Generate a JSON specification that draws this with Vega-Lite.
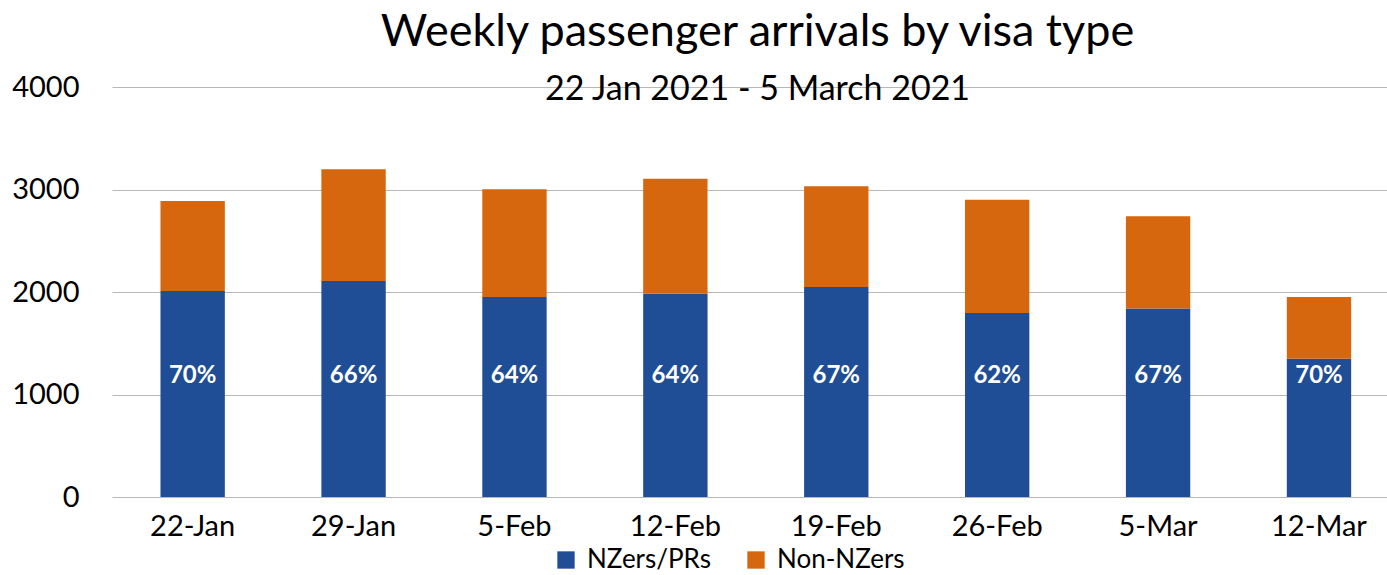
{
  "$schema": "https://vega.github.io/schema/vega-lite/v6.json",
  "width": 1275,
  "height": 410,
  "autosize": {"type": "none"},
  "padding": {"left": 112, "top": 87, "right": 0, "bottom": 78},
  "background": "white",
  "config": {"font": "Lato", "view": {"stroke": null}},
  "title": {
    "text": "Weekly passenger arrivals by visa type",
    "subtitle": "22 Jan 2021 - 5 March 2021",
    "anchor": "middle",
    "frame": "group",
    "fontSize": 45,
    "fontWeight": "normal",
    "subtitleFontSize": 34,
    "color": "#000000",
    "subtitleColor": "#000000",
    "offset": -34,
    "subtitlePadding": 18,
    "dx": 8
  },
  "data": {
    "values": [
      {"week": "22-Jan", "type": "NZers/PRs", "count": 2010, "label": "70%"},
      {"week": "22-Jan", "type": "Non-NZers", "count": 878, "label": ""},
      {"week": "29-Jan", "type": "NZers/PRs", "count": 2107, "label": "66%"},
      {"week": "29-Jan", "type": "Non-NZers", "count": 1090, "label": ""},
      {"week": "5-Feb", "type": "NZers/PRs", "count": 1951, "label": "64%"},
      {"week": "5-Feb", "type": "Non-NZers", "count": 1051, "label": ""},
      {"week": "12-Feb", "type": "NZers/PRs", "count": 1984, "label": "64%"},
      {"week": "12-Feb", "type": "Non-NZers", "count": 1122, "label": ""},
      {"week": "19-Feb", "type": "NZers/PRs", "count": 2049, "label": "67%"},
      {"week": "19-Feb", "type": "Non-NZers", "count": 982, "label": ""},
      {"week": "26-Feb", "type": "NZers/PRs", "count": 1795, "label": "62%"},
      {"week": "26-Feb", "type": "Non-NZers", "count": 1106, "label": ""},
      {"week": "5-Mar", "type": "NZers/PRs", "count": 1838, "label": "67%"},
      {"week": "5-Mar", "type": "Non-NZers", "count": 901, "label": ""},
      {"week": "12-Mar", "type": "NZers/PRs", "count": 1350, "label": "70%"},
      {"week": "12-Mar", "type": "Non-NZers", "count": 601, "label": ""}
    ]
  },
  "encoding": {
    "x": {
      "field": "week",
      "type": "nominal",
      "sort": ["22-Jan", "29-Jan", "5-Feb", "12-Feb", "19-Feb", "26-Feb", "5-Mar", "12-Mar"],
      "scale": {"paddingInner": 0.6, "paddingOuter": 0.262, "align": 0.575},
      "axis": {
        "title": null,
        "labelAngle": 0,
        "labelFontSize": 29,
        "labelColor": "#000000",
        "domain": false,
        "ticks": false,
        "labelPadding": 15
      }
    }
  },
  "layer": [
    {
      "mark": {"type": "bar"},
      "encoding": {
        "y": {
          "field": "count",
          "type": "quantitative",
          "stack": "zero",
          "scale": {"domain": [0, 4000]},
          "axis": {
            "title": null,
            "values": [0, 1000, 2000, 3000, 4000],
            "format": "d",
            "domain": false,
            "ticks": false,
            "labelFontSize": 29,
            "labelColor": "#000000",
            "labelPadding": 33,
            "gridColor": "#b8b8b8",
            "gridWidth": 1.2
          }
        },
        "order": {"field": "type", "sort": "ascending"},
        "color": {
          "field": "type",
          "type": "nominal",
          "scale": {"domain": ["NZers/PRs", "Non-NZers"], "range": ["#1f4e96", "#d6670f"]},
          "legend": {
            "title": null,
            "orient": "none",
            "legendX": 441,
            "legendY": 460,
            "direction": "horizontal",
            "labelFontSize": 26,
            "labelColor": "#000000",
            "labelOffset": 8,
            "symbolType": "square",
            "symbolSize": 300,
            "symbolOpacity": 1,
            "symbolStrokeWidth": 0,
            "columnPadding": 32
          }
        }
      }
    },
    {
      "transform": [{"filter": "datum.label != ''"}],
      "mark": {"type": "text", "color": "white", "fontWeight": "bold", "fontSize": 24, "baseline": "middle"},
      "encoding": {
        "y": {"datum": 1180, "type": "quantitative"},
        "text": {"field": "label"}
      }
    }
  ]
}
